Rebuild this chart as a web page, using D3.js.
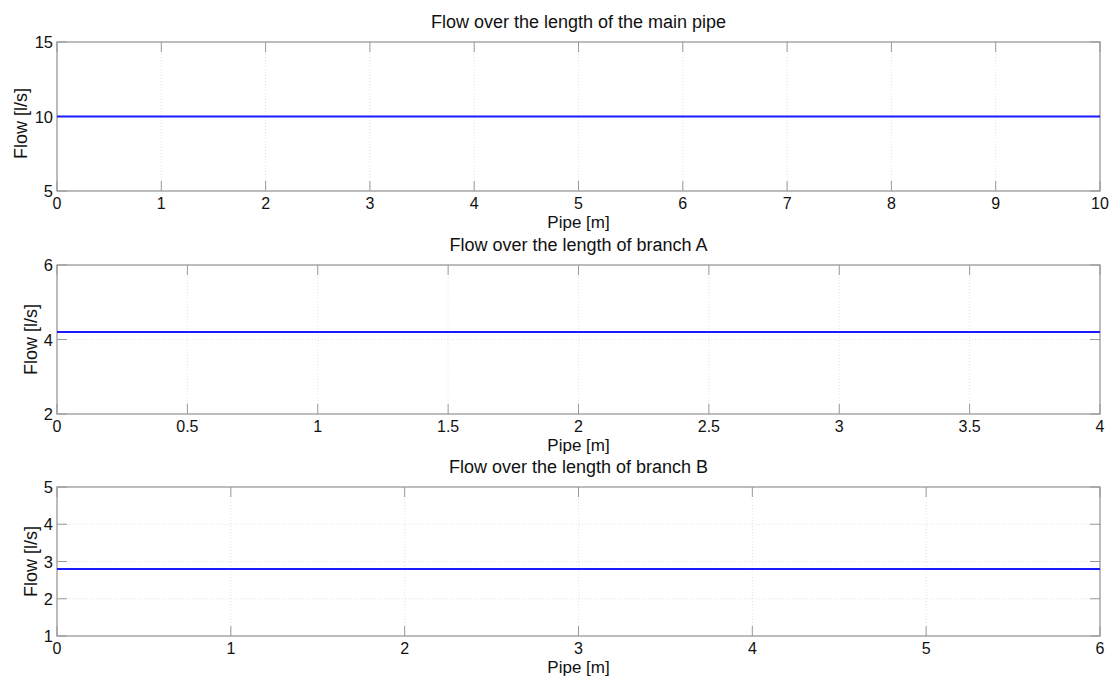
<!DOCTYPE html>
<html><head><meta charset="utf-8">
<script src="https://cdn.jsdelivr.net/npm/d3@7"></script>
<style>body{margin:0;background:#fff;} svg{display:block;} text{font-family:"Liberation Sans",Arial,sans-serif;fill:#111;}</style>
</head><body>
<svg id="c" width="1115" height="679"></svg>
<script>
const titles = ["Flow over the length of the main pipe","Flow over the length of branch A","Flow over the length of branch B"];
const xDomains = [[0,10],[0,4],[0,6]];
const yDomains = [[5,15],[2,6],[1,5]];
const xTicks = [[0,1,2,3,4,5,6,7,8,9,10],[0,0.5,1,1.5,2,2.5,3,3.5,4],[0,1,2,3,4,5,6]];
const yTicks = [[5,10,15],[2,4,6],[1,2,3,4,5]];
const flowValues = [10, 4.2, 2.8];
const xLabel = "Pipe [m]";
const yLabel = "Flow [l/s]";
const panelTops = [42, 265, 487];
const panelH = 149, L = 57, R = 1100;
const yLabelX = [27, 37, 37];
const yLabelShift = [7, 0, 0];

const svg = d3.select("#c");
titles.forEach((t,i)=>{
  const top = panelTops[i], bot = top+panelH;
  const x = d3.scaleLinear().domain(xDomains[i]).range([L,R]);
  const y = d3.scaleLinear().domain(yDomains[i]).range([bot,top]);
  const g = svg.append("g");
  // grid
  g.selectAll(".gx").data(xTicks[i].slice(1,-1)).enter().append("line")
    .attr("x1",d=>x(d)).attr("x2",d=>x(d)).attr("y1",top).attr("y2",bot)
    .attr("stroke","#e2e2e2").attr("stroke-width",1).attr("stroke-dasharray","1,2");
  g.selectAll(".gy").data(yTicks[i].slice(1,-1)).enter().append("line")
    .attr("y1",d=>y(d)).attr("y2",d=>y(d)).attr("x1",L).attr("x2",R)
    .attr("stroke","#e2e2e2").attr("stroke-width",1).attr("stroke-dasharray","1,2");
  // ticks inside
  g.selectAll(".tx").data(xTicks[i]).enter().append("line")
    .attr("x1",d=>x(d)).attr("x2",d=>x(d)).attr("y1",bot).attr("y2",bot-10)
    .attr("stroke","#999");
  g.selectAll(".tx2").data(xTicks[i]).enter().append("line")
    .attr("x1",d=>x(d)).attr("x2",d=>x(d)).attr("y1",top).attr("y2",top+10)
    .attr("stroke","#999");
  g.selectAll(".ty").data(yTicks[i]).enter().append("line")
    .attr("y1",d=>y(d)).attr("y2",d=>y(d)).attr("x1",L).attr("x2",L+10)
    .attr("stroke","#999");
  g.selectAll(".ty2").data(yTicks[i]).enter().append("line")
    .attr("y1",d=>y(d)).attr("y2",d=>y(d)).attr("x1",R).attr("x2",R-10)
    .attr("stroke","#999");
  // box
  g.append("rect").attr("x",L).attr("y",top).attr("width",R-L).attr("height",panelH)
    .attr("fill","none").attr("stroke","#999").attr("stroke-width",1.3);
  // data line
  const line = d3.line().x(d=>x(d[0])).y(d=>y(d[1]));
  g.append("path").datum([[xDomains[i][0],flowValues[i]],[xDomains[i][1],flowValues[i]]])
    .attr("d",line).attr("stroke","#1a1aff").attr("stroke-width",2).attr("fill","none");
  // tick labels
  g.selectAll(".lx").data(xTicks[i]).enter().append("text")
    .attr("x",d=>x(d)).attr("y",bot+18).attr("text-anchor","middle").attr("font-size",16)
    .text(d=>d);
  g.selectAll(".ly").data(yTicks[i]).enter().append("text")
    .attr("x",L-4).attr("y",d=>y(d)+6).attr("text-anchor","end").attr("font-size",16.5)
    .text(d=>d);
  // labels
  g.append("text").attr("x",(L+R)/2).attr("y",top-14).attr("text-anchor","middle")
    .attr("font-size",18).text(t);
  g.append("text").attr("x",(L+R)/2).attr("y",bot+37).attr("text-anchor","middle")
    .attr("font-size",17).text(xLabel);
  g.append("text").attr("transform",`translate(${yLabelX[i]},${(top+bot)/2+yLabelShift[i]}) rotate(-90)`)
    .attr("text-anchor","middle").attr("font-size",18).text(yLabel);
});
</script>
</body></html>
